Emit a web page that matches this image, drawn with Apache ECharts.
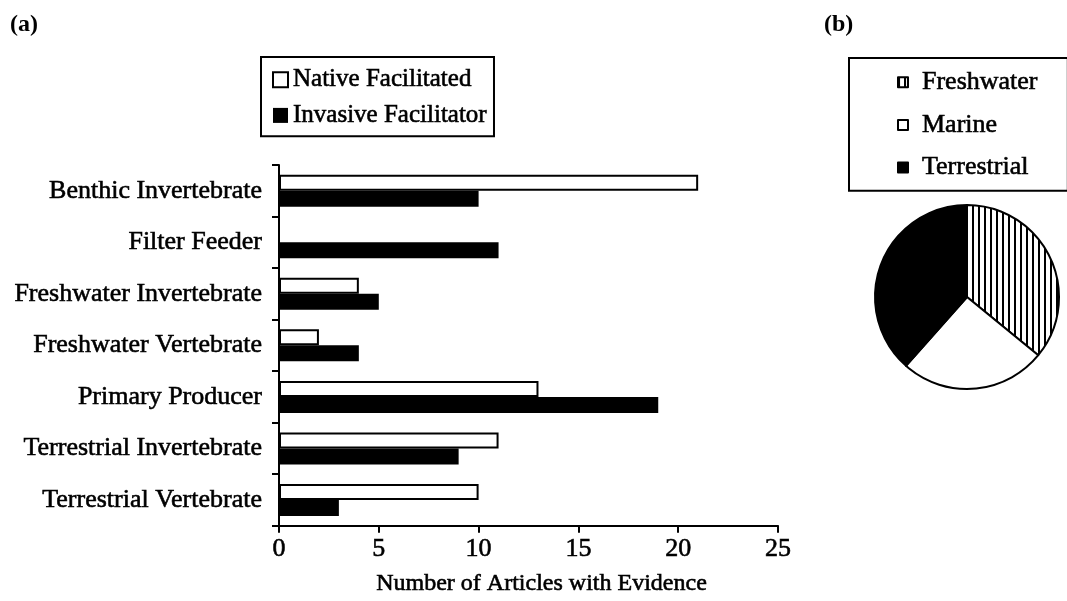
<!DOCTYPE html>
<html><head><meta charset="utf-8">
<script src="https://cdn.jsdelivr.net/npm/echarts@6/dist/echarts.min.js"></script>
<style>html,body{margin:0;padding:0;background:#fff}#c{width:1067px;height:601px}</style>
</head><body><div id="c"></div>
<script>
const categories = ['Benthic Invertebrate','Filter Feeder','Freshwater Invertebrate','Freshwater Vertebrate','Primary Producer','Terrestrial Invertebrate','Terrestrial Vertebrate'];
const nativeFacilitated = [21, 0, 4, 2, 13, 11, 10];
const invasiveFacilitator = [10, 11, 5, 4, 19, 9, 3];
const xTicks = [0, 25, 5];
const habitats = ['Freshwater','Marine','Terrestrial'];
const habitatCounts = [14, 10, 15];

const F = 'Liberation Serif';
const thick = {textBorderColor:'#000', textBorderWidth:0.6};
const pc = document.createElement('canvas');
pc.width = 6; pc.height = 6;
const g = pc.getContext('2d');
g.fillStyle = '#fff'; g.fillRect(0,0,6,6);
g.fillStyle = '#000'; g.fillRect(0,0,2,6);
const stripe = {image: pc, repeat: 'repeat'};

const chart = echarts.init(document.getElementById('c'), null, {renderer:'canvas'});
chart.setOption({
  animation:false,
  textStyle:{fontFamily:F, color:'#000'},
  title:[
    {text:'(a)', left:5, top:8, textStyle:{fontFamily:F, fontSize:24, fontWeight:'bold', color:'#000'}},
    {text:'(b)', left:819, top:8, textStyle:{fontFamily:F, fontSize:24, fontWeight:'bold', color:'#000'}}
  ],
  legend:[
    {data:['Native Facilitated','Invasive Facilitator'], orient:'vertical', left:261, top:57,
     borderColor:'#000', borderWidth:2, padding:[10,7,8,11], itemGap:10, itemWidth:15, itemHeight:15,
     icon:'rect', textStyle:Object.assign({fontFamily:F, fontSize:25, color:'#000'}, thick)},
    {data:habitats, orient:'vertical', left:849, top:58,
     borderColor:'#000', borderWidth:2, padding:[11,30,10,48], itemGap:16, itemWidth:10, itemHeight:10,
     icon:'rect', textStyle:Object.assign({fontFamily:F, fontSize:26, color:'#000', padding:[0,0,0,9]}, thick)}
  ],
  grid:{left:279, top:165, right:289, bottom:73, containLabel:false},
  xAxis:{type:'value', min:xTicks[0], max:xTicks[1], interval:xTicks[2],
    axisLine:{show:true, lineStyle:{color:'#000', width:2}},
    axisTick:{show:true, length:7, lineStyle:{color:'#000', width:2}},
    splitLine:{show:false},
    axisLabel:Object.assign({fontFamily:F, fontSize:26, color:'#000', margin:10}, thick),
    name:'Number of Articles with Evidence', nameLocation:'middle', nameGap:46,
    nameTextStyle:Object.assign({fontFamily:F, fontSize:24, color:'#000', padding:[0,0,0,26]}, thick)},
  yAxis:{type:'category', data:categories, inverse:true,
    axisLine:{show:true, lineStyle:{color:'#000', width:2}},
    axisTick:{show:true, length:7, lineStyle:{color:'#000', width:2}},
    axisLabel:Object.assign({fontFamily:F, fontSize:26, color:'#000', margin:17}, thick)},
  series:[
    {name:'Native Facilitated', type:'bar', data:nativeFacilitated, barWidth:16, barGap:'0%',
     itemStyle:{color:'#fff', borderColor:'#000', borderWidth:2}},
    {name:'Invasive Facilitator', type:'bar', data:invasiveFacilitator, barWidth:16, barGap:'0%',
     itemStyle:{color:'#000', borderColor:'#000', borderWidth:0}},
    {name:'Habitat', type:'pie', center:[967,297], radius:92, startAngle:90, clockwise:true,
     label:{show:false}, labelLine:{show:false},
     itemStyle:{borderColor:'#000', borderWidth:2},
     data:[
       {name:habitats[0], value:habitatCounts[0], itemStyle:{color:stripe}},
       {name:habitats[1], value:habitatCounts[1], itemStyle:{color:'#fff'}},
       {name:habitats[2], value:habitatCounts[2], itemStyle:{color:'#000'}}
     ]}
  ]
});
</script></body></html>
